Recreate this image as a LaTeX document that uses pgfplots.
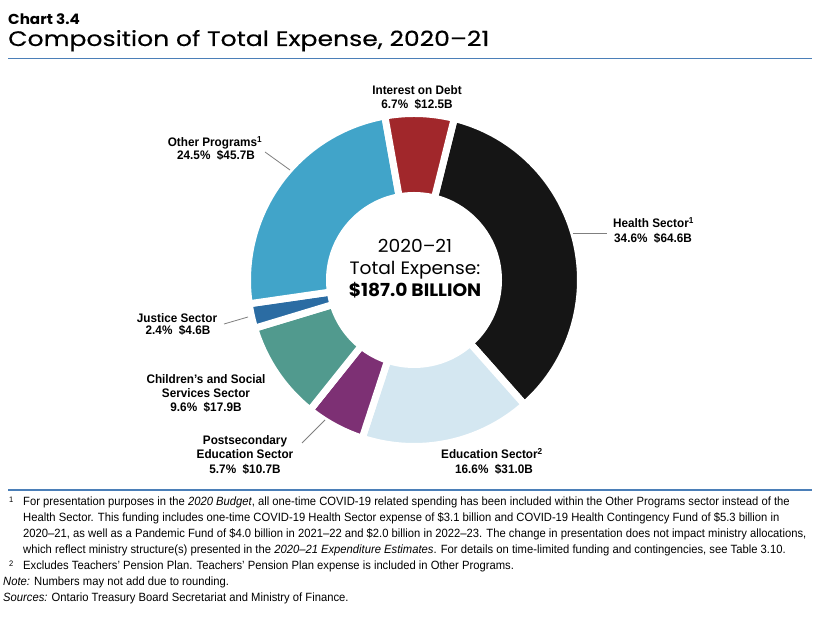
\documentclass[border=0pt]{standalone}
\usepackage{fontspec}
\setmainfont{Liberation Sans}
\newfontfamily\narrow[FakeStretch=0.95]{Liberation Sans}
\newfontfamily\notesf[FakeStretch=0.94]{Liberation Sans}
\newfontfamily\titlef[Ligatures=NoCommon, FakeStretch=1.2, FakeBold=0.4]{Poppins}
\newfontfamily\chartf[Ligatures=NoCommon, FakeStretch=1.05]{Poppins}
\newfontfamily\centref[Ligatures=NoCommon, FakeStretch=1.04]{Poppins}
\usepackage{pgfplots}
\usepackage{pgfplotstable}
\pgfplotsset{compat=1.18}

\definecolor{slice0}{HTML}{151515}% Health
\definecolor{slice1}{HTML}{D4E7F1}% Education
\definecolor{slice2}{HTML}{7D3074}% Postsecondary
\definecolor{slice3}{HTML}{519A8E}% Children's
\definecolor{slice4}{HTML}{2B6CA3}% Justice
\definecolor{slice5}{HTML}{41A4C9}% Other
\definecolor{slice6}{HTML}{A1272B}% Interest
\definecolor{rulecol}{HTML}{4B7FB8}
\definecolor{leader}{HTML}{7F7F7F}

\pgfplotstableread{
sector pct
Health 34.6
Education 16.6
Postsecondary 5.7
Childrens 9.6
Justice 2.4
Other 24.5
Interest 6.7
}\slices

\newcommand\labfont{\narrow\bfseries\fontsize{12.4}{14}\selectfont}
\newcommand\notefont{\notesf\fontsize{12}{16}\selectfont}
\newcommand\lab[3]{\node[anchor=base, inner sep=0pt, font=\labfont] at (axis cs:#1,{620-#2}) {#3};}
\newcommand\note[3]{\node[anchor=base west, inner sep=0pt, font=\notefont] at (axis cs:#1,{620-#2}) {#3};}

\begin{document}
\begin{tikzpicture}
\pgfplotstablegetrowsof{\slices}
\pgfmathtruncatemacro\lastrow{\pgfplotsretval-1}
\xdef\total{0}
\foreach \i in {0,...,\lastrow}{%
  \pgfplotstablegetelem{\i}{pct}\of\slices
  \pgfmathsetmacro\tmpsum{\total+\pgfplotsretval}%
  \xdef\total{\tmpsum}%
}
\xdef\curang{76}
\foreach \i in {0,...,\lastrow}{%
  \pgfplotstablegetelem{\i}{pct}\of\slices
  \pgfmathsetmacro\newang{\curang-\pgfplotsretval*360/\total}%
  \expandafter\xdef\csname angA\i\endcsname{\newang}%
  \expandafter\xdef\csname angB\i\endcsname{\curang}%
  \xdef\curang{\newang}%
}
\begin{axis}[scale only axis, width=830bp, height=620bp,
  xmin=0, xmax=830, ymin=0, ymax=620, hide axis, clip=false]
\path (rel axis cs:0,0) rectangle (rel axis cs:1,1);
\pgfplotsinvokeforeach{0,...,6}{%
  \addplot[fill=slice#1, draw=white, line width=7bp, line join=round,
    domain=\csname angA#1\endcsname:\csname angB#1\endcsname, samples=90]
    ({414+166.5*cos(x)},{340+166.5*sin(x)}) -- (axis cs:414,340) -- cycle;
}
\fill[white] (axis cs:414,340) circle[radius=88bp];

% titles
\node[anchor=base west, inner sep=0pt, font=\chartf\bfseries\fontsize{14.5}{18}\selectfont] at (axis cs:8,{620-25}) {Chart 3.4};
\node[anchor=base west, inner sep=0pt, font=\titlef\fontsize{21}{24}\selectfont] at (axis cs:8,{620-46}) {Composition of Total Expense, 2020–21};
\draw[rulecol, line width=1.6bp] (axis cs:8,{620-58.5}) -- (axis cs:812,{620-58.5});

% centre
\node[anchor=base, inner sep=0pt, font=\centref\fontsize{18}{20}\selectfont] at (axis cs:415,{620-253}) {2020–21};
\node[anchor=base, inner sep=0pt, font=\centref\fontsize{18}{20}\selectfont] at (axis cs:415,{620-275}) {Total Expense:};
\node[anchor=base, inner sep=0pt, font=\centref\bfseries\fontsize{18}{20}\selectfont] at (axis cs:415,{620-297}) {\$187.0 BILLION};

% labels
\lab{417}{95}{Interest on Debt}
\lab{417}{109}{6.7\%\ \ \$12.5B}
\lab{215}{147}{Other Programs\textsuperscript{1}}
\lab{216}{160}{24.5\%\ \ \$45.7B}
\node[anchor=base west, inner sep=0pt, font=\labfont] at (axis cs:613,{620-228}) {Health Sector\textsuperscript{1}};
\node[anchor=base west, inner sep=0pt, font=\labfont] at (axis cs:614,{620-243}) {34.6\%\ \ \$64.6B};
\lab{177}{323}{Justice Sector}
\lab{178}{335}{2.4\%\ \ \$4.6B}
\lab{206}{384}{Children’s and Social}
\lab{206}{398}{Services Sector}
\lab{206}{412}{9.6\%\ \ \$17.9B}
\lab{245}{445}{Postsecondary}
\lab{245}{459}{Education Sector}
\lab{245}{474}{5.7\%\ \ \$10.7B}
\lab{492}{459}{Education Sector\textsuperscript{2}}
\lab{494}{474}{16.6\%\ \ \$31.0B}

% leader lines
\draw[leader, line width=0.8bp] (axis cs:573,{620-233}) -- (axis cs:607,{620-233});
\draw[leader, line width=0.8bp] (axis cs:265,{620-152}) -- (axis cs:290,{620-170});
\draw[leader, line width=0.8bp] (axis cs:224,{620-324}) -- (axis cs:248,{620-317});
\draw[leader, line width=0.8bp] (axis cs:302,{620-443}) -- (axis cs:325,{620-420});

% footnotes
\draw[rulecol, line width=1.6bp] (axis cs:8,{620-490}) -- (axis cs:812,{620-490});
\node[anchor=base west, inner sep=0pt, font=\notesf\fontsize{8}{8}\selectfont] at (axis cs:9,{620-503}) {1};
\note{23}{506}{For presentation purposes in the \textit{2020 Budget}, all one-time COVID-19 related spending has been included within the Other Programs sector instead of the}
\note{23}{522}{Health Sector. This funding includes one-time COVID-19 Health Sector expense of \$3.1 billion and COVID-19 Health Contingency Fund of \$5.3 billion in}
\note{23}{538}{2020–21, as well as a Pandemic Fund of \$4.0 billion in 2021–22 and \$2.0 billion in 2022–23. The change in presentation does not impact ministry allocations,}
\note{23}{554}{which reflect ministry structure(s) presented in the \textit{2020–21 Expenditure Estimates}. For details on time-limited funding and contingencies, see Table 3.10.}
\node[anchor=base west, inner sep=0pt, font=\notesf\fontsize{8}{8}\selectfont] at (axis cs:9,{620-567}) {2};
\note{23}{570}{Excludes Teachers’ Pension Plan. Teachers’ Pension Plan expense is included in Other Programs.}
\note{3}{586}{\textit{Note:} Numbers may not add due to rounding.}
\note{3}{602}{\textit{Sources:} Ontario Treasury Board Secretariat and Ministry of Finance.}
\end{axis}
\end{tikzpicture}
\end{document}
